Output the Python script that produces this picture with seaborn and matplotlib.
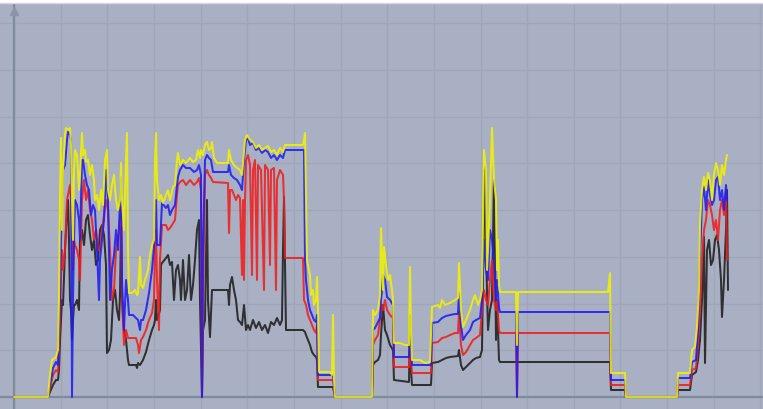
import matplotlib
matplotlib.use("Agg")
import matplotlib.pyplot as plt
from matplotlib.ticker import MultipleLocator, NullFormatter
import seaborn as sns
import pandas as pd

# ---- data (time units, signal level units) ----
yellow_x = [0, 34, 36, 38, 42, 44, 45, 46, 47, 48, 49, 51, 52, 55, 56, 57, 58, 59, 60, 61, 63, 65, 66, 68, 69, 71, 72, 74, 76, 78, 80, 81, 83, 85, 87, 89, 91, 93, 94, 96, 98, 100, 102, 104, 106, 107, 108, 110, 112, 113, 114, 115, 118, 121, 123, 124, 126, 127, 129, 131, 134, 136, 138, 140, 141, 142, 143, 145, 147, 149, 152, 154, 156, 159, 161, 163, 164, 166, 169, 172, 176, 179, 182, 184, 186, 187, 189, 191, 193, 195, 197, 198, 200, 203, 208, 214, 215, 217, 220, 223, 226, 228, 231, 233, 236, 239, 242, 245, 248, 251, 254, 257, 260, 263, 266, 269, 271, 289, 290, 291, 292, 293, 294, 296, 297, 299, 300, 302, 303, 304, 305, 316, 318, 319, 320, 321, 358, 359, 361, 364, 366, 367, 368, 369, 370, 372, 374, 376, 378, 379, 380, 386, 391, 395, 396, 397, 398, 406, 411, 416, 418, 424, 426, 428, 431, 436, 441, 444, 445, 447, 449, 452, 456, 459, 461, 464, 466, 468, 470, 472, 473, 474, 476, 478, 480, 482, 483, 484, 485, 486, 502, 503, 504, 594, 596, 597, 611, 612, 663, 664, 676, 678, 681, 683, 685, 686, 688, 690, 692, 694, 696, 698, 700, 702, 704, 706, 708, 710, 712, 713]
yellow_y = [0, 0, 22, 37, 40, 47, 97, 197, 259, 167, 227, 262, 269, 267, 269, 252, 197, 157, 227, 247, 242, 207, 222, 264, 242, 247, 235, 237, 222, 232, 217, 197, 202, 187, 207, 192, 237, 247, 207, 197, 212, 222, 197, 187, 197, 234, 197, 167, 237, 264, 147, 104, 104, 107, 102, 104, 140, 112, 109, 117, 127, 142, 152, 157, 237, 264, 217, 197, 202, 194, 202, 207, 197, 210, 212, 237, 244, 232, 237, 234, 239, 235, 237, 247, 239, 247, 242, 252, 255, 247, 249, 255, 239, 234, 234, 234, 247, 237, 232, 229, 227, 222, 257, 262, 257, 255, 249, 252, 247, 249, 251, 245, 247, 242, 249, 245, 252, 252, 257, 264, 197, 137, 132, 122, 102, 107, 92, 97, 120, 87, 25, 25, 22, 82, 17, 0, 0, 87, 82, 87, 102, 169, 137, 107, 150, 132, 117, 122, 107, 97, 54, 54, 52, 52, 130, 67, 37, 37, 34, 35, 90, 92, 89, 97, 92, 94, 97, 99, 134, 87, 70, 77, 87, 97, 102, 92, 97, 107, 247, 227, 127, 147, 197, 269, 217, 197, 127, 157, 112, 105, 105, 52, 105, 105, 124, 24, 24, 0, 0, 24, 24, 47, 50, 70, 107, 174, 207, 220, 207, 224, 217, 197, 222, 234, 227, 212, 232, 222, 237, 242]

blue_x = [0, 34, 36, 39, 42, 44, 45, 46, 47, 48, 49, 51, 53, 54, 56, 57, 58, 59, 60, 61, 63, 65, 66, 68, 69, 71, 73, 75, 77, 79, 81, 83, 85, 86, 88, 90, 92, 94, 96, 98, 100, 102, 104, 106, 107, 108, 110, 112, 114, 115, 119, 122, 124, 126, 127, 129, 132, 135, 138, 140, 141, 142, 143, 146, 148, 152, 154, 156, 158, 161, 163, 164, 166, 169, 172, 176, 180, 183, 185, 187, 188, 189, 191, 193, 195, 197, 199, 208, 214, 215, 217, 220, 223, 226, 228, 230, 232, 234, 236, 239, 242, 245, 248, 251, 254, 257, 260, 263, 266, 269, 271, 290, 291, 292, 294, 296, 298, 300, 302, 303, 304, 319, 320, 321, 358, 359, 361, 364, 366, 367, 368, 369, 371, 373, 376, 379, 380, 395, 396, 397, 398, 417, 418, 424, 428, 432, 436, 441, 444, 445, 447, 449, 452, 456, 459, 462, 466, 468, 470, 472, 474, 476, 478, 480, 482, 483, 485, 486, 502, 503, 504, 596, 597, 611, 612, 663, 664, 676, 678, 682, 684, 686, 688, 690, 692, 694, 696, 698, 700, 702, 704, 706, 708, 710, 712, 713]
blue_y = [0, 0, 12, 29, 35, 32, 67, 97, 157, 197, 227, 232, 257, 265, 262, 257, 0, 97, 157, 197, 192, 177, 157, 237, 237, 222, 212, 207, 182, 192, 187, 147, 97, 137, 157, 177, 227, 197, 97, 127, 142, 167, 147, 197, 220, 117, 67, 117, 97, 82, 82, 79, 77, 67, 77, 77, 87, 104, 127, 150, 177, 197, 152, 152, 194, 189, 192, 182, 187, 192, 212, 220, 227, 232, 229, 229, 225, 227, 232, 222, 0, 147, 237, 242, 239, 237, 225, 225, 225, 232, 222, 219, 217, 212, 207, 237, 257, 259, 252, 254, 247, 249, 244, 247, 245, 239, 242, 237, 242, 239, 247, 247, 137, 117, 97, 87, 82, 77, 75, 82, 22, 22, 12, 0, 0, 67, 69, 75, 79, 97, 107, 122, 117, 100, 97, 92, 40, 40, 67, 47, 32, 32, 74, 75, 79, 81, 82, 83, 83, 105, 72, 57, 62, 67, 75, 77, 79, 97, 157, 127, 117, 167, 157, 137, 97, 117, 89, 85, 85, 0, 85, 85, 17, 17, 0, 0, 19, 19, 35, 37, 67, 137, 197, 210, 187, 217, 202, 192, 197, 217, 220, 197, 207, 187, 212, 197]

red_x = [0, 34, 36, 39, 42, 44, 45, 46, 47, 48, 49, 51, 53, 55, 56, 57, 58, 59, 60, 61, 63, 65, 66, 68, 70, 72, 74, 76, 78, 80, 82, 84, 86, 88, 90, 92, 94, 96, 98, 100, 102, 104, 106, 107, 108, 110, 112, 114, 122, 124, 125, 127, 129, 132, 135, 138, 140, 141, 142, 143, 145, 146, 148, 152, 154, 156, 158, 161, 163, 164, 166, 169, 172, 176, 180, 183, 185, 187, 188, 189, 191, 193, 195, 197, 199, 214, 215, 216, 218, 220, 222, 224, 226, 228, 229, 230, 231, 232, 234, 236, 238, 239, 241, 243, 244, 247, 250, 251, 254, 256, 257, 260, 262, 263, 266, 269, 270, 271, 289, 290, 292, 294, 296, 298, 300, 302, 303, 304, 319, 320, 321, 358, 359, 361, 364, 366, 367, 368, 369, 371, 373, 376, 379, 380, 395, 396, 397, 398, 417, 418, 424, 428, 432, 436, 441, 444, 445, 447, 449, 452, 456, 459, 462, 466, 468, 470, 472, 474, 476, 478, 480, 482, 483, 485, 486, 502, 503, 504, 596, 597, 611, 612, 663, 664, 676, 678, 682, 684, 686, 688, 690, 692, 694, 696, 698, 700, 702, 704, 706, 708, 710, 712, 713]
red_y = [0, 0, 9, 22, 27, 25, 52, 77, 117, 147, 127, 147, 197, 207, 212, 197, 157, 127, 157, 152, 147, 137, 117, 197, 217, 197, 207, 187, 177, 157, 167, 147, 147, 167, 182, 197, 187, 147, 97, 107, 147, 157, 177, 190, 97, 52, 67, 59, 59, 52, 44, 57, 60, 67, 77, 84, 97, 147, 167, 117, 67, 137, 172, 172, 167, 169, 172, 177, 202, 212, 215, 217, 212, 217, 212, 215, 219, 207, 0, 97, 222, 227, 222, 219, 215, 214, 164, 207, 207, 202, 197, 202, 199, 122, 197, 117, 197, 237, 242, 232, 122, 227, 237, 117, 232, 227, 107, 232, 227, 132, 227, 229, 107, 217, 227, 222, 197, 139, 139, 97, 92, 82, 77, 72, 67, 64, 72, 17, 17, 9, 0, 0, 52, 57, 62, 77, 87, 92, 87, 97, 87, 82, 79, 30, 30, 52, 37, 24, 24, 54, 55, 59, 60, 62, 64, 64, 85, 52, 42, 45, 52, 57, 59, 62, 87, 107, 97, 92, 117, 137, 97, 87, 97, 67, 64, 64, 0, 64, 64, 12, 12, 0, 0, 12, 12, 27, 29, 52, 87, 137, 167, 177, 197, 192, 182, 167, 177, 157, 187, 197, 182, 207, 137]

black_x = [0, 34, 36, 39, 42, 44, 45, 46, 47, 48, 49, 51, 52, 53, 54, 55, 56, 57, 58, 59, 60, 61, 63, 65, 66, 68, 70, 72, 74, 76, 78, 80, 82, 84, 86, 88, 90, 92, 93, 95, 97, 99, 101, 103, 105, 106, 107, 108, 110, 112, 114, 115, 122, 123, 124, 126, 129, 132, 135, 138, 140, 141, 142, 143, 146, 147, 148, 152, 154, 156, 158, 160, 162, 164, 166, 167, 169, 171, 173, 175, 177, 179, 181, 183, 185, 186, 188, 189, 191, 193, 194, 196, 198, 214, 215, 216, 218, 220, 222, 224, 226, 228, 230, 232, 234, 236, 239, 242, 245, 248, 251, 254, 257, 260, 263, 266, 268, 269, 270, 271, 272, 289, 291, 292, 294, 296, 298, 300, 302, 303, 304, 319, 320, 321, 358, 359, 361, 364, 366, 367, 368, 369, 371, 373, 376, 379, 380, 395, 396, 397, 398, 417, 418, 424, 428, 432, 436, 444, 445, 447, 449, 452, 456, 459, 462, 466, 468, 470, 471, 472, 474, 476, 478, 480, 481, 482, 483, 485, 486, 596, 597, 611, 612, 663, 664, 676, 678, 682, 684, 686, 688, 690, 691, 693, 695, 697, 699, 701, 703, 705, 707, 708, 710, 712, 713, 714]
black_y = [0, 0, 5, 12, 17, 17, 27, 57, 77, 97, 92, 147, 167, 187, 197, 157, 97, 87, 57, 77, 92, 92, 97, 87, 157, 167, 152, 177, 182, 162, 147, 157, 132, 137, 167, 172, 162, 132, 44, 47, 57, 97, 107, 87, 77, 102, 170, 97, 67, 57, 37, 32, 32, 29, 34, 32, 37, 45, 57, 67, 72, 77, 97, 77, 87, 132, 134, 139, 142, 132, 135, 97, 127, 132, 117, 97, 137, 97, 107, 142, 97, 112, 137, 167, 177, 97, 0, 67, 77, 197, 97, 60, 107, 107, 92, 112, 120, 107, 97, 77, 75, 72, 92, 67, 72, 67, 77, 69, 75, 67, 72, 64, 75, 72, 79, 72, 77, 147, 200, 137, 67, 67, 65, 62, 57, 52, 45, 42, 40, 37, 10, 10, 5, 0, 0, 32, 35, 37, 42, 62, 77, 92, 67, 62, 52, 47, 17, 15, 82, 27, 12, 12, 34, 35, 37, 39, 40, 41, 47, 32, 27, 30, 34, 37, 39, 40, 47, 197, 230, 147, 67, 87, 97, 217, 147, 57, 97, 37, 35, 35, 7, 7, 0, 0, 7, 7, 22, 25, 37, 57, 97, 160, 34, 147, 157, 132, 137, 157, 162, 147, 117, 80, 117, 167, 207, 107]

series_names = ["black", "red", "blue", "yellow"]
series_colors = {"black": "#1e1e1e", "red": "#f01e1e", "blue": "#1e1ef0", "yellow": "#f2f200"}

grid_dx = 46.65
grid_dy = 46.75

frames = []
for name, xs, ys in [("black", black_x, black_y), ("red", red_x, red_y),
                     ("blue", blue_x, blue_y), ("yellow", yellow_x, yellow_y)]:
    frames.append(pd.DataFrame({"t": xs, "v": ys, "series": name}))
df = pd.concat(frames, ignore_index=True)

sns.set_theme(style="white")
bg = "#a9b0c3"
fig = plt.figure(figsize=(7.63, 4.09), dpi=100, facecolor="white")
ax = fig.add_axes([0, 0, 1, 406 / 409])
ax.set_facecolor(bg)

ax.xaxis.set_major_locator(MultipleLocator(grid_dx))
ax.yaxis.set_major_locator(MultipleLocator(grid_dy))
ax.xaxis.set_major_formatter(NullFormatter())
ax.yaxis.set_major_formatter(NullFormatter())
ax.tick_params(length=0)
ax.grid(True, color="#9ea6b8", linewidth=1.0)
ax.set_axisbelow(True)

ax.axhline(0, color="#818a9c", linewidth=1.6, zorder=1.5)
ax.axvline(0, color="#818a9c", linewidth=1.6, zorder=1.5)
ax.plot([0], [386], marker="^", markersize=6, color="#8d95a7", zorder=1.6, clip_on=False)

sns.lineplot(data=df, x="t", y="v", hue="series", hue_order=series_names,
             units="series", estimator=None, sort=False, palette=series_colors,
             linewidth=1.45, alpha=0.88, legend=False, ax=ax)

ax.set_xlim(-14, 749)
ax.set_ylim(-12, 394)
ax.set_xlabel("")
ax.set_ylabel("")
for side in ["left", "right", "bottom"]:
    ax.spines[side].set_visible(False)
ax.spines["top"].set_color("#d4d8e0")
ax.spines["top"].set_linewidth(1.0)

fig.savefig("out.png", dpi=100, facecolor="white")
